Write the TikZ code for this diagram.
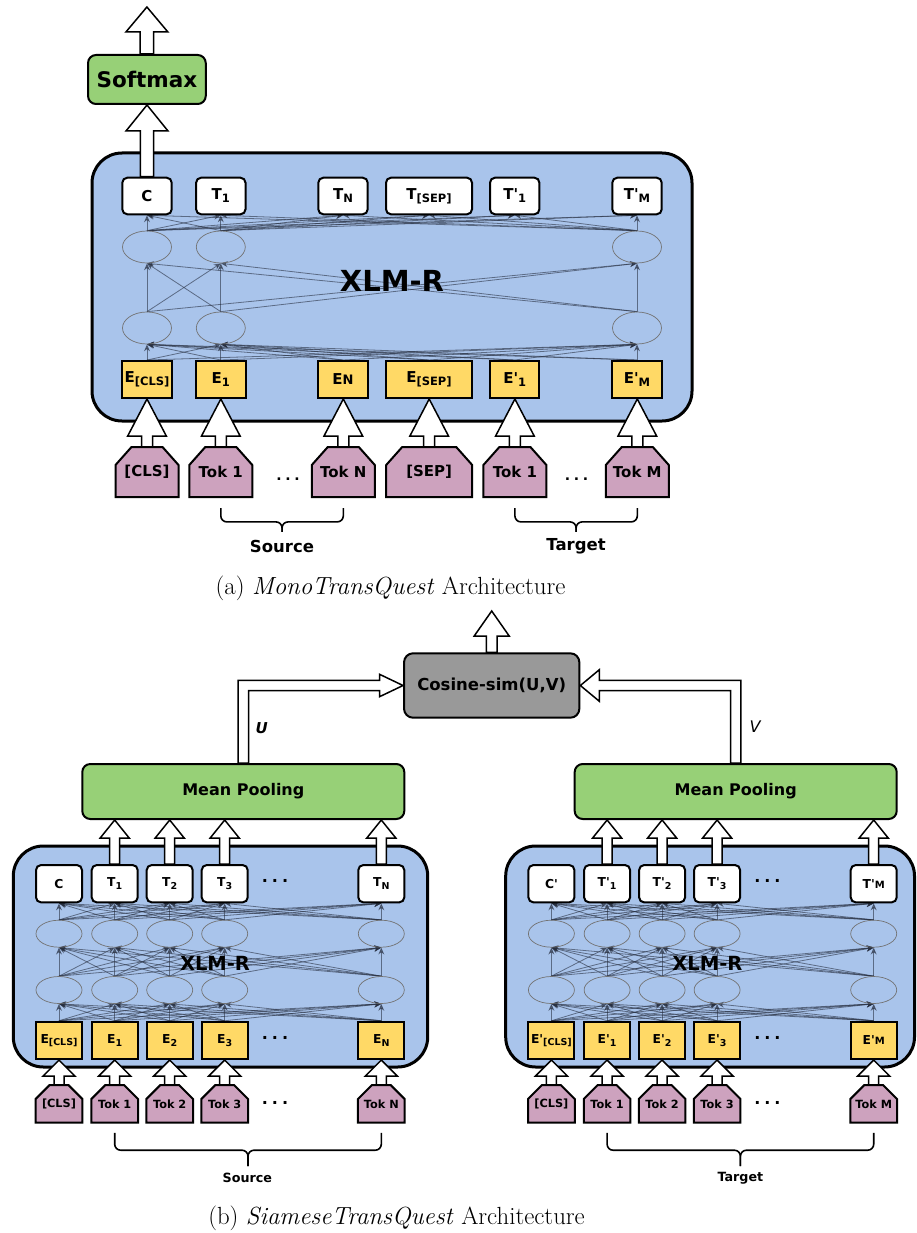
\documentclass[tikz,border=0pt]{standalone}
\usepackage{fontspec}
\newfontfamily\dv{DejaVu Sans}[Ligatures=TeXOff]
\usetikzlibrary{calc,arrows.meta,shapes.geometric}
\pgfdeclarelayer{back}
\pgfdeclarelayer{mid}
\pgfsetlayers{back,mid,main}
\definecolor{xblue}{HTML}{A9C4EB}
\definecolor{eyel}{HTML}{FFD966}
\definecolor{tokp}{HTML}{CDA2BE}
\definecolor{mgreen}{HTML}{97D077}
\definecolor{cgray}{HTML}{999999}
\definecolor{nncol}{RGB}{40,48,65}
\newcommand{\fs}[1]{\fontsize{#1}{#1}\selectfont}
\newcommand{\subA}[1]{\raisebox{-3pt}{\fs{11.5}#1}}
\newcommand{\subB}[1]{\raisebox{-2.5pt}{\fs{9.5}#1}}
\newcommand{\uparr}[5]{%
  \draw[barrow] let \p1=(#1), \p2=(#2) in
   (\x1-#3,\y1) -- (\x1-#3,\y2-#5) -- (\x1-#4,\y2-#5) -- (\x1,\y2) -- (\x1+#4,\y2-#5) -- (\x1+#3,\y2-#5) -- (\x1+#3,\y1) -- cycle;}
\newcommand{\tokshape}[9]{%
  \draw[tokpoly] (#2-#4/2,#3+#5) -- (#2-#4/2,#3+#7) -- (#2-#4/2+#6,#3) -- (#2+#4/2-#6,#3) -- (#2+#4/2,#3+#7) -- (#2+#4/2,#3+#5) -- cycle;
  \node[#8, minimum width=#4, minimum height=#5] (#1) at (#2,#3+#5/2) {#9};}
\newcommand{\brc}[5]{%
  \coordinate (bm) at ($(#1.south)!0.5!(#2.south)$);
  \draw[brace] ($(#1.south)+(0,#3)$) |- ($(bm)+(0,#4)$) -- ($(bm)+(0,#5)$);
  \draw[brace] ($(#2.south)+(0,#3)$) |- ($(bm)+(0,#4)$) -- ($(bm)+(0,#5)$);}
\tikzset{
 xlmbox/.style={draw=black, line width=3pt, fill=xblue, rounded corners=30pt, inner sep=0pt},
 xlmlblA/.style={font=\dv\bfseries\fs{29}, inner sep=0pt},
 xlmlblB/.style={font=\dv\bfseries\fs{19.5}, inner sep=0pt},
 tboxA/.style={draw=black, line width=2pt, fill=white, rounded corners=5pt, inner sep=0pt, minimum height=36.6, minimum width=49.4, font=\dv\bfseries\fs{15}},
 eboxA/.style={draw=black, line width=2pt, fill=eyel, inner sep=0pt, minimum height=37, minimum width=49.4, font=\dv\bfseries\fs{15}},
 tboxB/.style={draw=black, line width=2pt, fill=white, rounded corners=5pt, inner sep=0pt, minimum height=37.3, minimum width=46, font=\dv\bfseries\fs{12.3}},
 eboxB/.style={draw=black, line width=2pt, fill=eyel, inner sep=0pt, minimum height=37.3, minimum width=46, font=\dv\bfseries\fs{12.3}},
 nnell/.style={ellipse, draw=black!55, line width=0.7pt, inner sep=0pt},
 nn/.style={draw=nncol, opacity=0.6, line width=0.8pt, -{Stealth[length=7pt,width=6pt]}},
 barrow/.style={draw=black, fill=white, line width=1.5pt, line join=miter},
 tokpoly/.style={draw=black, fill=tokp, line width=2pt, line join=miter},
 toklblA/.style={font=\dv\bfseries\fs{15}, inner sep=0pt},
 toklblB/.style={font=\dv\bfseries\fs{11.3}, inner sep=0pt},
 brace/.style={draw=black, line width=1.6pt, rounded corners=6pt},
 srcA/.style={font=\dv\bfseries\fs{16.5}, inner sep=0pt},
 srcB/.style={font=\dv\bfseries\fs{12.7}, inner sep=0pt},
 dotsA/.style={font=\dv\bfseries\fs{14}, inner sep=0pt},
 dotsB/.style={font=\dv\bfseries\fs{16}, inner sep=0pt},
 greenbox/.style={draw=black, line width=2pt, fill=mgreen, rounded corners=8pt, inner sep=0pt},
 graybox/.style={draw=black, line width=2pt, fill=cgray, rounded corners=9pt, inner sep=0pt, font=\dv\bfseries\fs{16.5}},
 ulblsty/.style={font=\dv\bfseries\itshape\fs{15}, inner sep=0pt},
 vlblsty/.style={font=\dv\itshape\fs{16}, inner sep=0pt},
 capt/.style={font=\fs{24.8}, inner sep=0pt}
}
\begin{document}
\begin{tikzpicture}[x=1pt,y=-1pt]
\useasboundingbox (0,0) rectangle (916,1233);

% ===================== (a) MonoTransQuest =====================
\begin{pgfonlayer}{back}
\node[xlmbox, minimum width=600, minimum height=268] (xa) at (392,287) {};
\end{pgfonlayer}
\node[xlmlblA] (xla) at (392,281) {XLM-R};

\foreach \x [count=\i] in {147,220.8,637} {
  \node[nnell, minimum width=49, minimum height=32] (La\i) at (\x,247) {};
  \node[nnell, minimum width=49, minimum height=32] (Ma\i) at (\x,328) {};
}
\node[tboxA] (Ta1) at (147,196) {C};
\node[tboxA] (Ta2) at (220.8,196) {T\subA{1}};
\node[tboxA] (Ta3) at (343,196) {T\subA{N}};
\node[tboxA, minimum width=86] (Ta4) at (429,196) {T\subA{[SEP]}};
\node[tboxA] (Ta5) at (514.7,196) {T'\subA{1}};
\node[tboxA] (Ta6) at (637,196) {T'\subA{M}};
\node[eboxA] (Ea1) at (147,379.5) {E\subA{[CLS]}};
\node[eboxA] (Ea2) at (220.8,379.5) {E\subA{1}};
\node[eboxA] (Ea3) at (343,379.5) {E{\fs{13}N}};
\node[eboxA, minimum width=86] (Ea4) at (429,379.5) {E\subA{[SEP]}};
\node[eboxA] (Ea5) at (514.7,379.5) {E'\subA{1}};
\node[eboxA] (Ea6) at (637,379.5) {E'\subA{M}};

\begin{pgfonlayer}{mid}
\foreach \i in {1,...,6} \foreach \j in {1,2,3} {
  \draw[nn] (Ea\i.north) -- (Ma\j.south);
  \draw[nn] (La\j.north) -- (Ta\i.south);
}
\foreach \i in {1,2,3} \foreach \j in {1,2,3} \draw[nn] (Ma\i.north) -- (La\j.south);
\end{pgfonlayer}

% softmax
\node[greenbox, minimum width=117.7, minimum height=49, font=\dv\bfseries\fs{21.5}] (sm) at (146.9,79.5) {Softmax};
\coordinate (smout) at (146.9,7);
\uparr{Ta1.north}{sm.south}{6.7pt}{21pt}{26pt}
\uparr{sm.north}{smout}{6.7pt}{21pt}{25pt}

% tokens (a)
\tokshape{tka1}{147}{447}{63}{50}{16}{18}{toklblA}{[CLS]}
\tokshape{tka2}{220.8}{447}{63}{50}{16}{18}{toklblA}{Tok 1}
\tokshape{tka3}{343.3}{447}{63}{50}{16}{18}{toklblA}{Tok N}
\tokshape{tka4}{429.2}{447}{86}{50}{16}{18}{toklblA}{[SEP]}
\tokshape{tka5}{514.9}{447}{63}{50}{16}{18}{toklblA}{Tok 1}
\tokshape{tka6}{637.3}{447}{63}{50}{16}{18}{toklblA}{Tok M}
\foreach \i in {1,...,6} {\uparr{tka\i.north}{Ea\i.south}{5.5pt}{19.3pt}{37pt}}
\node[dotsA] (dA1) at (288,479) {.\hspace{3.7pt}.\hspace{3.7pt}.};
\node[dotsA] (dA2) at (576.5,479) {.\hspace{3.7pt}.\hspace{3.7pt}.};
\brc{tka2}{tka3}{11}{24.7}{34.7}
\brc{tka5}{tka6}{11}{24.7}{34.7}
\node[srcA] (srcAa) at (282,546) {Source};
\node[srcA] (tgtAa) at (576,546) {Target};
\node[capt] (capA) at (390.5,588) {(a) \textit{MonoTransQuest} Architecture};

% ===================== (b) SiameseTransQuest =====================
\node[graybox, minimum width=175.3, minimum height=64.4] (cos) at (491.7,685.5) {Cosine-sim(U,V)};
\coordinate (cosout) at (491.7,611);
\uparr{cos.north}{cosout}{5.3pt}{17.5pt}{25pt}
\node[greenbox, minimum width=322, minimum height=55, font=\dv\bfseries\fs{16}] (mpL) at (243.3,791.5) {Mean Pooling};
\node[greenbox, minimum width=322, minimum height=55, font=\dv\bfseries\fs{16}] (mpR) at (735.7,791.5) {Mean Pooling};
\draw[barrow] let \p1=(mpL.north), \p2=(cos.west) in
  (\x1-5.2pt,\y1) -- (\x1-5.2pt,\y2+5.2pt) -- (\x2-23.5pt,\y2+5.2pt) -- (\x2-23.5pt,\y2+11.2pt) -- (\x2,\y2)
  -- (\x2-23.5pt,\y2-11.2pt) -- (\x2-23.5pt,\y2-5.2pt) -- (\x1+5.2pt,\y2-5.2pt) -- (\x1+5.2pt,\y1) -- cycle;
\draw[barrow] let \p1=(mpR.north), \p2=(cos.east) in
  (\x1+5.2pt,\y1) -- (\x1+5.2pt,\y2+5.2pt) -- (\x2+19pt,\y2+5.2pt) -- (\x2+19pt,\y2+15.8pt) -- (\x2,\y2)
  -- (\x2+19pt,\y2-15.8pt) -- (\x2+19pt,\y2-5.2pt) -- (\x1-5.2pt,\y2-5.2pt) -- (\x1-5.2pt,\y1) -- cycle;
\node[ulblsty] (ulbl) at (261.7,727.7) {U};
\node[vlblsty] (vlbl) at (755,726.7) {V};

\begin{pgfonlayer}{back}
\node[xlmbox, minimum width=414.4, minimum height=221] (xbL) at (220.5,956.5) {};
\node[xlmbox, minimum width=408.8, minimum height=221] (xbR) at (710.1,956.5) {};
\end{pgfonlayer}
\node[xlmlblB] (xlbL) at (215,963) {XLM-R};
\node[xlmlblB] (xlbR) at (707.4,963) {XLM-R};

\foreach \x [count=\i] in {59,114.7,169.7,224.7,381.3} {
  \node[nnell, minimum width=46, minimum height=27] (LbL\i) at (\x,933.7) {};
  \node[nnell, minimum width=46, minimum height=27] (MbL\i) at (\x,990) {};
}
\foreach \x [count=\i] in {551.4,607.1,662.1,717.1,873.7} {
  \node[nnell, minimum width=46, minimum height=27] (LbR\i) at (\x,933.7) {};
  \node[nnell, minimum width=46, minimum height=27] (MbR\i) at (\x,990) {};
}
\foreach \x/\t [count=\i] in {59/C,114.7/T\subB{1},169.7/T\subB{2},224.7/T\subB{3},381.3/T\subB{N}}
  \node[tboxB] (TbL\i) at (\x,883.7) {\t};
\foreach \x/\t [count=\i] in {59/E\subB{[CLS]},114.7/E\subB{1},169.7/E\subB{2},224.7/E\subB{3},381.3/E\subB{N}}
  \node[eboxB] (EbL\i) at (\x,1040.4) {\t};
\foreach \x/\t [count=\i] in {551.4/C',607.1/T'\subB{1},662.1/T'\subB{2},717.1/T'\subB{3},873.7/T'{\fs{10}M}}
  \node[tboxB] (TbR\i) at (\x,883.7) {\t};
\foreach \x/\t [count=\i] in {551.4/E'\subB{[CLS]},607.1/E'\subB{1},662.1/E'\subB{2},717.1/E'\subB{3},873.7/E'{\fs{10}M}}
  \node[eboxB] (EbR\i) at (\x,1040.4) {\t};

\begin{pgfonlayer}{mid}
\foreach \s in {L,R} \foreach \i in {1,...,5} \foreach \j in {1,...,5} {
  \draw[nn] (Eb\s\i.north) -- (Mb\s\j.south);
  \draw[nn] (Mb\s\i.north) -- (Lb\s\j.south);
  \draw[nn] (Lb\s\i.north) -- (Tb\s\j.south);
}
\end{pgfonlayer}

\foreach \i in {2,...,5} {\uparr{TbL\i.north}{mpL.south}{5pt}{14.5pt}{18pt}}
\foreach \i in {2,...,5} {\uparr{TbR\i.north}{mpR.south}{5pt}{14.5pt}{18pt}}

\tokshape{tkL1}{59}{1085}{46.7}{37.7}{14}{14}{toklblB}{[CLS]}
\tokshape{tkL2}{114.7}{1085}{46.7}{37.7}{14}{14}{toklblB}{Tok 1}
\tokshape{tkL3}{169.7}{1085}{46.7}{37.7}{14}{14}{toklblB}{Tok 2}
\tokshape{tkL4}{224.7}{1085}{46.7}{37.7}{14}{14}{toklblB}{Tok 3}
\tokshape{tkL5}{381.3}{1085}{46.7}{37.7}{14}{14}{toklblB}{Tok N}
\tokshape{tkR1}{551.4}{1085}{46.7}{37.7}{14}{14}{toklblB}{[CLS]}
\tokshape{tkR2}{607.1}{1085}{46.7}{37.7}{14}{14}{toklblB}{Tok 1}
\tokshape{tkR3}{662.1}{1085}{46.7}{37.7}{14}{14}{toklblB}{Tok 2}
\tokshape{tkR4}{717.1}{1085}{46.7}{37.7}{14}{14}{toklblB}{Tok 3}
\tokshape{tkR5}{873.7}{1085}{46.7}{37.7}{14}{14}{toklblB}{Tok M}
\foreach \s in {L,R} \foreach \i in {1,...,5} {\uparr{tk\s\i.north}{Eb\s\i.south}{5pt}{16pt}{16pt}}

\node[dotsB] (dBL1) at (275,881) {.\hspace{4pt}.\hspace{4pt}.};
\node[dotsB] (dBL2) at (275,1038) {.\hspace{4pt}.\hspace{4pt}.};
\node[dotsB] (dBL3) at (275,1103) {.\hspace{4pt}.\hspace{4pt}.};
\node[dotsB] (dBR1) at (767.4,881) {.\hspace{4pt}.\hspace{4pt}.};
\node[dotsB] (dBR2) at (767.4,1038) {.\hspace{4pt}.\hspace{4pt}.};
\node[dotsB] (dBR3) at (767.4,1103) {.\hspace{4pt}.\hspace{4pt}.};

\brc{tkL2}{tkL5}{10}{27.3}{43.3}
\brc{tkR2}{tkR5}{10}{27.3}{43.3}
\node[srcB] (srcBl) at (247.3,1178) {Source};
\node[srcB] (tgtBl) at (740.4,1178) {Target};
\node[capt] (capB) at (396.5,1218) {(b) \textit{SiameseTransQuest} Architecture};
\end{tikzpicture}
\end{document}
